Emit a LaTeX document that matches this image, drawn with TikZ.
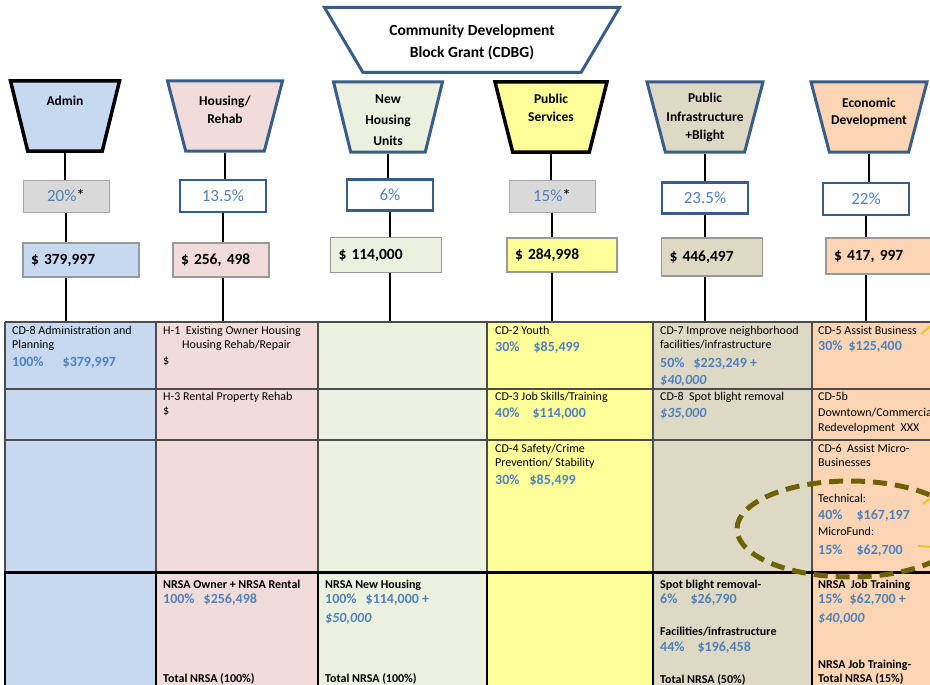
\documentclass[tikz,border=0pt]{standalone}
\usepackage{fontspec}
\setmainfont{Carlito}
\usetikzlibrary{shapes.geometric, positioning}

\definecolor{adminblue}{HTML}{C6D9F1}
\definecolor{rehabpink}{HTML}{F2DCDB}
\definecolor{newgreen}{HTML}{EBF1DE}
\definecolor{svcyellow}{HTML}{FFFF99}
\definecolor{infratan}{HTML}{DDD9C4}
\definecolor{econpeach}{HTML}{FCD5B5}
\definecolor{steel}{HTML}{385D8A}
\definecolor{numblue}{HTML}{4F81BD}
\definecolor{boxgray}{HTML}{D9D9D9}
\definecolor{ovalolive}{RGB}{110,98,8}
\definecolor{markyellow}{RGB}{232,200,30}

\newcommand\amt[1]{{\color{numblue}\bfseries\fontsize{14}{16}\selectfont #1}}

\begin{document}
\begin{tikzpicture}[
    x=1pt, y=-1pt,
    hdr/.style={draw=steel, line width=3pt, trapezium, shape border rotate=180, trapezium angle=77, trapezium stretches=true, minimum width=#1, minimum height=70pt, inner sep=3pt},
    hdrtext/.style={anchor=north, align=center, inner sep=0pt, font=\bfseries\fontsize{13.5}{18.5}\selectfont},
    pct/.style={draw=steel, line width=2.5pt, fill=white, minimum width=86pt, minimum height=32pt, text=numblue, font=\fontsize{17}{19}\selectfont},
    pctgray/.style={pct, draw=gray!70, line width=1pt, fill=boxgray},
    dol/.style={draw=gray!80, line width=1.2pt, minimum height=34pt, text width=#1, align=left, inner xsep=8pt, font=\bfseries\fontsize{15.5}{18}\selectfont},
    link/.style={line width=1.8pt},
    grid/.style={draw=black!70, line width=1.3pt},
    cell/.style={anchor=north west, inner sep=0pt, align=left, font=\fontsize{12}{14}\selectfont},
    nrsa/.style={cell, font=\bfseries\fontsize{12}{14}\selectfont},
    oval/.style={draw=ovalolive, line width=5pt, dash pattern=on 14pt off 8pt},
    stub/.style={draw=markyellow, line width=2pt}
]
\useasboundingbox (0,0) rectangle (930,685);
\clip (0,0) rectangle (930,685);

% Grant title
\node[hdr=295pt, trapezium angle=80, minimum height=65pt, fill=white] (cdbg) at (472,40) {};
\node[hdrtext, below=18pt of cdbg.north, font=\bfseries\fontsize{15.5}{22.5}\selectfont] (cdbg-t) {Community Development\\Block Grant (CDBG)};

% Program areas
\node[hdr=109pt, fill=adminblue, draw=black, line width=3.5pt] (ad-h) at (65,116) {};
\node[hdr=115pt, fill=rehabpink] (hr-h) at (225,116) {};
\node[hdr=109pt, fill=newgreen] (nh-h) at (388,117) {};
\node[hdr=112pt, fill=svcyellow, draw=black, line width=3.5pt] (ps-h) at (551,117) {};
\node[hdr=116pt, fill=infratan] (pi-h) at (705,117) {};
\node[hdr=116pt, fill=econpeach] (ed-h) at (869,117) {};

\node[hdrtext, below=17pt of ad-h.north] (ad-t) {Admin};
\node[hdrtext, below=16pt of hr-h.north] (hr-t) {Housing/\\Rehab};
\node[hdrtext, below=14pt of nh-h.north, font=\bfseries\fontsize{13.5}{21}\selectfont] (nh-t) {New\\Housing\\Units};
\node[hdrtext, below=13.5pt of ps-h.north] (ps-t) {Public\\Services};
\node[hdrtext, below=12.5pt of pi-h.north] (pi-t) {Public\\Infrastructure\\+Blight};
\node[hdrtext, below=17pt of ed-h.north, font=\bfseries\fontsize{13.5}{17}\selectfont] (ed-t) {Economic\\Development};

% Shares
\node[pctgray] (ad-p) at (66,196) {20\%\textcolor{black}{*}};
\node[pct] (hr-p) at (223,196) {13.5\%};
\node[pct, minimum height=31pt] (nh-p) at (390,195) {6\%};
\node[pctgray] (ps-p) at (552,196) {15\%\textcolor{black}{*}};
\node[pct, minimum height=31pt] (pi-p) at (705,198) {23.5\%};
\node[pct] (ed-p) at (866,199) {22\%};

% Amounts
\node[dol=100pt, fill=adminblue] (ad-d) at (81,260) {\$ 379,997};
\node[dol=80pt, fill=rehabpink] (hr-d) at (221,260) {\$ 256, 498};
\node[dol=95pt, fill=newgreen, minimum height=35pt] (nh-d) at (386,255) {\$ 114,000};
\node[dol=94pt, fill=svcyellow] (ps-d) at (562,255) {\$ 284,998};
\node[dol=85pt, fill=infratan, minimum height=38pt] (pi-d) at (712,257) {\$ 446,497};
\node[dol=94pt, fill=econpeach, minimum height=36pt] (ed-d) at (881,256) {\$ 417, 997};

\coordinate (tabtop) at (0,322);

% Links down to the table
\foreach \c in {ad,hr,nh,ps,pi,ed} {
    \draw[link] (\c-h.south) -- (\c-h.south |- \c-p.north);
    \draw[link] (\c-p.south) -- (\c-p.south |- \c-d.north);
    \draw[link] (\c-p.south |- \c-d.south) -- (\c-p.south |- tabtop);
}

% Activity table
\foreach \xa/\xb/\col in {5/156/adminblue, 156/318/rehabpink, 318/487/newgreen, 487/653/svcyellow, 653/812/infratan, 812/940/econpeach}
    \fill[\col] (\xa,322) rectangle (\xb,690);
\foreach \y in {322,389,440}
    \draw[grid] (5,\y) -- (940,\y);
\foreach \x in {5,156,318,487,653,812}
    \draw[grid] (\x,322) -- (\x,572);
\draw[line width=3pt] (4,572) -- (940,572);
\foreach \x in {5,156,318,487,653,812}
    \draw[line width=2.6pt] (\x,572) -- (\x,690);

% Row 1
\node[cell] (ad-r1) at (12,326) {CD-8 Administration and\\Planning\\[4pt]\amt{100\%\hspace{19pt}\$379,997}};
\node[cell] (hr-r1) at (163,326) {H-1\ \ Existing Owner Housing\\\hspace*{19pt}Housing Rehab/Repair\\[2pt]\$};
\node[cell] (ps-r1) at (495,326) {CD-2 Youth\\[2.5pt]\amt{30\%\hspace{14pt}\$85,499}};
\node[cell] (pi-r1) at (660,326) {CD-7 Improve neighborhood\\facilities/infrastructure\\[4.5pt]\amt{50\%\hspace{9pt}\$223,249 +}\\[3pt]\amt{\itshape\$40,000}};
\node[cell] (ed-r1) at (818,326) {CD-5 Assist Business\\[2pt]\amt{30\%\hspace{6pt}\$125,400}};

% Row 2
\node[cell] (hr-r2) at (163,392) {H-3 Rental Property Rehab\\\$};
\node[cell] (ps-r2) at (495,392) {CD-3 Job Skills/Training\\[3pt]\amt{40\%\hspace{13pt}\$114,000}};
\node[cell] (pi-r2) at (660,392) {CD-8\ \ Spot blight removal\\[3pt]\amt{\itshape\$35,000}};
\node[cell] (ed-r2) at (818,392) {CD-5b\\[1.5pt]Downtown/Commercial\\[1.5pt]Redevelopment\ \ XXX};

% Row 3
\node[cell] (ps-r3) at (495,444) {CD-4 Safety/Crime\\Prevention/ Stability\\[4pt]\amt{30\%\hspace{10pt}\$85,499}};
\node[cell] (ed-r3) at (818,444) {CD-6\ \ Assist Micro-\\Businesses\\[22.5pt]Technical:\\[2.5pt]\amt{40\%\hspace{14pt}\$167,197}\\[2.5pt]MicroFund:\\[4.5pt]\amt{15\%\hspace{14pt}\$62,700}};

% Row 4 (NRSA)
\node[nrsa] (hr-r4) at (163,580) {NRSA Owner + NRSA Rental\\[1pt]\amt{100\%\hspace{9pt}\$256,498}};
\node[nrsa] (hr-tot) at (163,673) {Total NRSA (100\%)};
\node[nrsa] (nh-r4) at (325,580) {NRSA New Housing\\[1pt]\amt{100\%\hspace{9pt}\$114,000 +}\\[5pt]\amt{\itshape\$50,000}};
\node[nrsa] (nh-tot) at (325,673) {Total NRSA (100\%)};
\node[nrsa] (pi-r4) at (660,580) {Spot blight removal-\\[1pt]\amt{6\%\hspace{13pt}\$26,790}\\[18pt]Facilities/infrastructure\\[2pt]\amt{44\%\hspace{13pt}\$196,458}\\[18pt]Total NRSA (50\%)};
\node[nrsa] (ed-r4) at (818,580) {NRSA\ \ Job Training\\[1pt]\amt{15\%\hspace{7pt}\$62,700 +}\\[5pt]\amt{\itshape\$40,000}\\[32pt]NRSA Job Training-\\Total NRSA (15\%)};

% Highlight
\draw[oval] (850,529) ellipse [x radius=113, y radius=48];
\draw[stub] (921,334) -- (932,325);
\draw[stub] (923,504) -- (932,497);
\draw[stub] (918,546) -- (932,547);

\end{tikzpicture}
\end{document}
